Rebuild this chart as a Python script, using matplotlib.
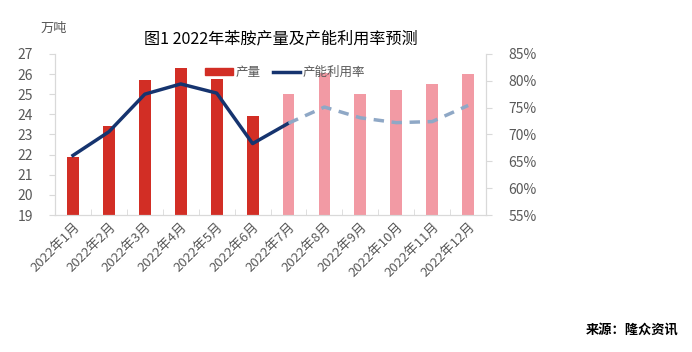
import numpy as np
import matplotlib
matplotlib.use('Agg')
import matplotlib.pyplot as plt
from matplotlib.patches import Patch
from matplotlib.lines import Line2D

plt.rcParams['font.family'] = ['Noto Sans CJK SC', 'DejaVu Sans']

# data
months = ['2022年1月', '2022年2月', '2022年3月', '2022年4月', '2022年5月', '2022年6月',
          '2022年7月', '2022年8月', '2022年9月', '2022年10月', '2022年11月', '2022年12月']
output = [21.9, 23.4, 25.7, 26.3, 25.75, 23.9, 25.0, 26.05, 25.0, 25.2, 25.5, 26.0]
utilization = [66.1, 70.5, 77.5, 79.4, 77.7, 68.3, 72.1, 75.1, 73.1, 72.2, 72.4, 75.4]
n_actual = 6  # Jan-Jun actual, Jul-Dec forecast

red = '#D22E25'
pink = '#F29AA4'
navy = '#16346F'
light = '#8FA8C6'
gray = '#595959'
axis_gray = '#D9D9D9'

fig = plt.figure(figsize=(6.92, 3.52), dpi=100)
ax = fig.add_axes([0.0795, 0.389, 0.623, 0.458])
ax2 = ax.twinx()

x = np.arange(len(months))
colors = [red] * n_actual + [pink] * (len(months) - n_actual)
ax.bar(x, output, width=0.33, color=colors, zorder=2)
ax.set_ylim(19, 27)
ax.set_xlim(-0.5, len(months) - 0.5)
ax.set_yticks(range(19, 28))
ax.set_xticks(x)
ax.set_xticklabels(months, rotation=45, ha='right', rotation_mode='anchor', fontsize=9.5, color=gray)
ax.set_xticks(np.arange(-0.5, len(months)), minor=True)
ax.tick_params(axis='x', which='major', length=0, pad=4)
ax.tick_params(axis='x', which='minor', length=4, direction='in', color=axis_gray)
ax.tick_params(axis='y', length=4, color=axis_gray, labelsize=10, labelcolor=gray, pad=12)

# utilization line: solid for actual, dashed for forecast
ax2.plot(x[:n_actual + 1], utilization[:n_actual + 1], color=navy, lw=2.5, zorder=3)
ax2.plot(x[n_actual:], utilization[n_actual:], color=light, lw=2.5, ls=(0, (3, 2.2)), zorder=3)
ax2.set_ylim(55, 85)
ax2.set_yticks(range(55, 90, 5))
ax2.set_yticklabels([f'{v}%' for v in range(55, 90, 5)])
ax2.tick_params(axis='y', length=4, color=axis_gray, labelsize=10, labelcolor=gray, pad=12)

for a in (ax, ax2):
    a.spines['top'].set_visible(False)
    for s in ('left', 'right', 'bottom'):
        a.spines[s].set_color(axis_gray)

handles = [Patch(color=red), Line2D([0], [0], color=navy, lw=2.5)]
leg = ax2.legend(handles, ['产量', '产能利用率'], loc='center', bbox_to_anchor=(0.534, 0.885),
                 ncol=2, frameon=False, fontsize=9, labelcolor=gray, handlelength=2.2,
                 handleheight=0.6, columnspacing=1.0, handletextpad=0.2)
leg.set_zorder(5)

fig.text(0.406, 0.89, '图1 2022年苯胺产量及产能利用率预测', fontsize=11.6, ha='center', va='center', color='black')
fig.text(0.058, 0.918, '万吨', fontsize=9.5, ha='left', va='center', color=gray)
fig.text(0.98, 0.063, '来源：隆众资讯', fontsize=9.5, ha='right', va='center', color='black', weight='bold')

fig.savefig('out.png', dpi=100)
